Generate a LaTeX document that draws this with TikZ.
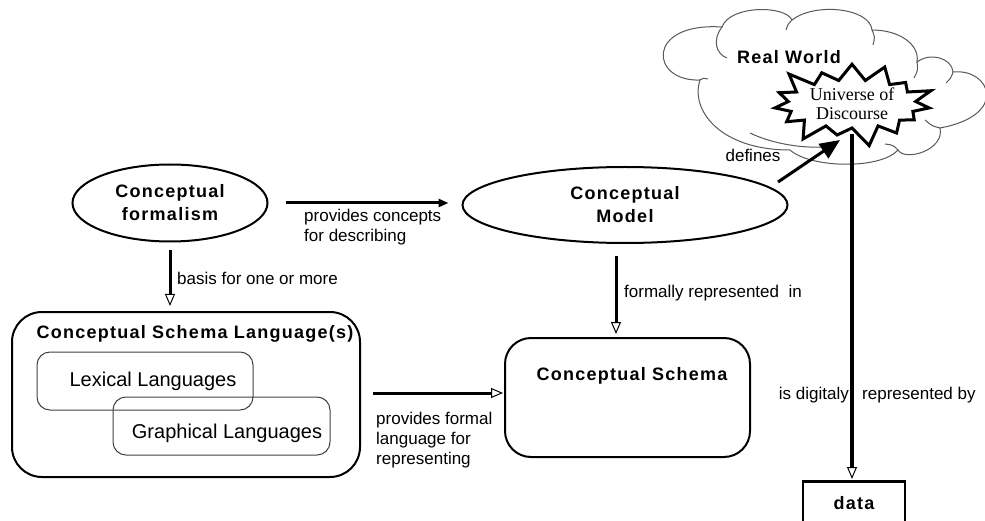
\documentclass[tikz,border=0pt]{standalone}
\usepackage{fontspec}
\setmainfont{Liberation Sans}
\newfontfamily\titlefont{Liberation Sans}[LetterSpace=7]
\newfontfamily\starfont{Liberation Serif}
\usetikzlibrary{shapes.geometric,shapes.symbols,arrows.meta,calc}

\begin{document}
\begin{tikzpicture}[x=1pt,y=-1pt,
  titletext/.style={font=\titlefont\bfseries\fontsize{18}{23}\selectfont},
  labeltext/.style={font=\fontsize{17}{20}\selectfont, inner sep=0pt, align=left},
  langtext/.style={font=\fontsize{20}{24}\selectfont, inner sep=0pt},
  concept/.style={draw, ellipse, line width=2pt, align=center, titletext, inner sep=0pt},
  bigbox/.style={draw, rounded corners=30pt, line width=2pt},
  langbox/.style={draw=black!75, rounded corners=13pt, line width=1pt},
  cloudline/.style={draw=black!65, line width=1pt},
  link/.style={line width=3pt},
  openhead/.style={-{Triangle[open,length=12pt,width=10pt,line width=1pt]}},
  solidhead/.style={-{Triangle[length=10pt,width=8pt]}},
  bighead/.style={-{Triangle[length=20pt,width=17pt]}}
]
\useasboundingbox (0,0) rectangle (985,521);

% ---- the real world cloud ----
\path[cloudline, fill=white]
  (700,80) .. controls (650,82) and (645,22) .. (722,27)
  .. controls (730,5) and (785,5) .. (792,20)
  .. controls (815,2) and (870,8) .. (872,30)
  .. controls (900,30) and (920,45) .. (917,62)
  .. controls (930,52) and (952,58) .. (953,72)
  .. controls (990,68) and (1010,115) .. (940,128)
  .. controls (945,150) and (905,162) .. (898,150)
  .. controls (880,170) and (810,168) .. (790,150)
  .. controls (720,150) and (690,110) .. (700,80) -- cycle;
% overlapping puff edges inside the cloud
\draw[cloudline] (722,27) .. controls (712,40) and (716,54) .. (727,58);
\draw[cloudline] (792,20) .. controls (788,24) .. (786,30);
\draw[cloudline] (872,30) .. controls (875,37) .. (873,45);
\draw[cloudline] (917,62) .. controls (918,70) .. (914,78);
\draw[cloudline] (953,72) .. controls (951,78) .. (946,83);
\draw[cloudline] (940,128) .. controls (932,126) .. (925,120);
\draw[cloudline] (898,150) .. controls (893,145) .. (885,144);
\draw[cloudline] (750,133) .. controls (775,145) and (805,148) .. (823,147);
\draw[cloudline] (700,80) .. controls (703,78) .. (708,79);

\node[font=\titlefont\bfseries\fontsize{18}{20}\selectfont, inner sep=0pt] (rw) at (789,57) {Real World};

\node[draw, starburst, starburst points=15, starburst point height=22pt,
      line width=3pt, fill=white, minimum width=172pt, minimum height=92pt,
      inner sep=0pt, align=center, font=\starfont\fontsize{18}{19}\selectfont]
      (star) at (852,104) {Universe of\\Discourse};

% ---- concepts ----
\node[concept, minimum width=195pt, minimum height=77pt] (form) at (170,203)
  {Conceptual\\formalism};
\node[concept, minimum width=325pt, minimum height=76pt] (model) at (625,205)
  {Conceptual\\Model};

\node[bigbox, minimum width=348pt, minimum height=165pt] (csl) at (186,394.5) {};
\node[titletext, inner sep=0pt] (cslt) at (195,334) {Conceptual Schema Language(s)};
\node[langbox, minimum width=216pt, minimum height=58pt] (lex) at (145,381) {};
\node[langtext] (lext) at (153,381) {Lexical Languages};
\node[langbox, minimum width=217pt, minimum height=58pt] (gra) at (221.5,426) {};
\node[langtext] (grat) at (227,433) {Graphical Languages};

\node[draw, rounded corners=26pt, line width=2pt, minimum width=245pt, minimum height=119pt]
  (schema) at (627.5,397.5) {};
\node[titletext, inner sep=0pt] (schemat) at (632,376) {Conceptual Schema};

\node[draw, line width=2.5pt, minimum width=102pt, minimum height=60pt,
      anchor=north] (data) at (854,480) {};
\node[titletext, inner sep=0pt] (datat) at (854,503) {data};

% ---- connectors ----
\draw[link, solidhead, shorten <=17pt, shorten >=13pt] (form.east) -- (form.east -| model.west);
\node[labeltext, anchor=north west] (l1) at (304,209) {provides concepts\\for describing};

\draw[link, openhead, shorten <=8pt, shorten >=5pt] (form.south) -- (form.south |- csl.north);
\node[labeltext, anchor=west] (l2) at (177,278) {basis for one or more};

\draw[link, openhead, shorten <=12pt, shorten >=3pt] ([xshift=-9pt]model.south) -- ([xshift=-9pt]model.south |- schema.north);
\node[labeltext, anchor=west] (l3) at (624,293) {formally represented\ \ in};

\draw[link, openhead, shorten <=12pt, shorten >=1pt] ([yshift=1.5pt]csl.east) -- ([yshift=1.5pt]csl.east -| schema.west);
\node[labeltext, anchor=north west] (l4) at (376,412) {provides formal\\language for\\representing};

\path (model.center) ++(153,-23) coordinate (defstart);
\path (star.center) ++(-12,36) coordinate (deftip);
\draw[link, bighead] (defstart) -- (deftip);
\node[labeltext] (l5) at (753,155) {defines};

\draw[line width=3.5pt, openhead, shorten >=1pt] ([yshift=-4pt]star.south) -- (star.south |- data.north);
\node[labeltext, anchor=east] (l6) at (849,395) {is digitaly};
\node[labeltext, anchor=west] (l7) at (862,395) {represented by};

\end{tikzpicture}
\end{document}
